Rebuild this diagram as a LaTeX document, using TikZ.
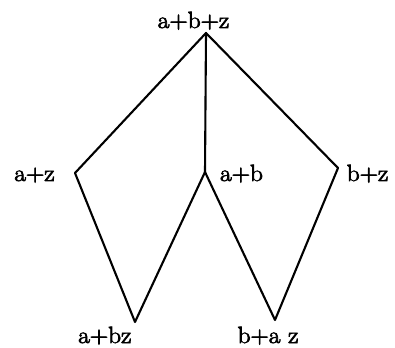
\documentclass[tikz,border=0pt]{standalone}
\usepackage{fontspec}
\newfontfamily\lblfont{Latin Modern Roman}[FakeBold=3]
\begin{document}
\begin{tikzpicture}[x=1pt,y=1pt,
  edge/.style={line width=2.1pt, line join=round, line cap=round},
  lbl/.style={inner sep=0pt, font=\lblfont\fontsize{23.5}{28}\selectfont, xscale=1.08}]
\useasboundingbox (0,0) rectangle (395,347);
\coordinate (T) at (206,314);
\coordinate (AZ) at (75,174);
\coordinate (AB) at (205,175);
\coordinate (BZ) at (338,179);
\coordinate (L) at (135,25);
\coordinate (R) at (275,27);
\node[lbl, anchor=base] (tl) at (193.5,319) {a+b+z};
\node[lbl, anchor=base] (azl) at (34.5,166) {a+z};
\node[lbl, anchor=base] (abl) at (241.5,166) {a+b};
\node[lbl, anchor=base] (bzl) at (367.5,166) {b+z};
\node[lbl, anchor=base west] (ll) at (78,4) {a+bz};
\node[lbl, anchor=base] (rl) at (268,4) {b+a z};
\draw[edge] (AZ) -- (T) -- (BZ);
\draw[edge] (T) -- (AB);
\draw[edge] (AZ) -- (L) -- (AB) -- (R) -- (BZ);
\end{tikzpicture}
\end{document}
